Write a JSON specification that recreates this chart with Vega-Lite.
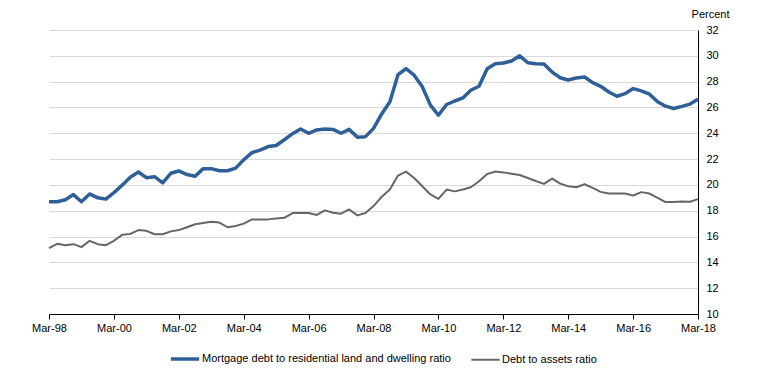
{
  "$schema": "https://vega.github.io/schema/vega-lite/v6.json",
  "width": 649,
  "height": 284,
  "autosize": "none",
  "padding": {"left": 49, "top": 30, "right": 59, "bottom": 65},
  "background": "white",
  "config": {
    "view": {"stroke": null},
    "font": "Liberation Sans",
    "axis": {"labelFont": "Liberation Sans", "labelFontSize": 11, "labelColor": "#000000", "titleFont": "Liberation Sans"},
    "legend": {"labelFont": "Liberation Sans", "labelFontSize": 11, "labelColor": "#000000"}
  },
  "data": {
    "values": [
      {"date":"1998-03-01","m":18.69,"d":15.1},{"date":"1998-06-01","m":18.7,"d":15.44},{"date":"1998-09-01","m":18.85,"d":15.33},{"date":"1998-12-01","m":19.25,"d":15.41},
      {"date":"1999-03-01","m":18.7,"d":15.18},{"date":"1999-06-01","m":19.3,"d":15.67},{"date":"1999-09-01","m":19.0,"d":15.41},{"date":"1999-12-01","m":18.9,"d":15.33},
      {"date":"2000-03-01","m":19.4,"d":15.67},{"date":"2000-06-01","m":19.97,"d":16.13},{"date":"2000-09-01","m":20.6,"d":16.2},{"date":"2000-12-01","m":21.0,"d":16.5},
      {"date":"2001-03-01","m":20.56,"d":16.44},{"date":"2001-06-01","m":20.64,"d":16.18},{"date":"2001-09-01","m":20.15,"d":16.18},{"date":"2001-12-01","m":20.9,"d":16.4},
      {"date":"2002-03-01","m":21.08,"d":16.5},{"date":"2002-06-01","m":20.8,"d":16.72},{"date":"2002-09-01","m":20.67,"d":16.95},{"date":"2002-12-01","m":21.26,"d":17.05},
      {"date":"2003-03-01","m":21.26,"d":17.15},{"date":"2003-06-01","m":21.1,"d":17.08},{"date":"2003-09-01","m":21.1,"d":16.72},{"date":"2003-12-01","m":21.3,"d":16.82},
      {"date":"2004-03-01","m":21.95,"d":17.0},{"date":"2004-06-01","m":22.5,"d":17.33},{"date":"2004-09-01","m":22.7,"d":17.33},{"date":"2004-12-01","m":22.97,"d":17.33},
      {"date":"2005-03-01","m":23.05,"d":17.4},{"date":"2005-06-01","m":23.5,"d":17.45},{"date":"2005-09-01","m":23.97,"d":17.82},{"date":"2005-12-01","m":24.33,"d":17.82},
      {"date":"2006-03-01","m":24.0,"d":17.82},{"date":"2006-06-01","m":24.26,"d":17.67},{"date":"2006-09-01","m":24.33,"d":18.03},{"date":"2006-12-01","m":24.3,"d":17.85},
      {"date":"2007-03-01","m":24.0,"d":17.77},{"date":"2007-06-01","m":24.3,"d":18.1},{"date":"2007-09-01","m":23.7,"d":17.64},{"date":"2007-12-01","m":23.74,"d":17.82},
      {"date":"2008-03-01","m":24.38,"d":18.36},{"date":"2008-06-01","m":25.5,"d":19.08},{"date":"2008-09-01","m":26.44,"d":19.64},{"date":"2008-12-01","m":28.54,"d":20.72},
      {"date":"2009-03-01","m":29.0,"d":21.03},{"date":"2009-06-01","m":28.5,"d":20.54},{"date":"2009-09-01","m":27.6,"d":19.9},{"date":"2009-12-01","m":26.18,"d":19.26},
      {"date":"2010-03-01","m":25.4,"d":18.92},{"date":"2010-06-01","m":26.23,"d":19.64},{"date":"2010-09-01","m":26.5,"d":19.5},{"date":"2010-12-01","m":26.74,"d":19.64},
      {"date":"2011-03-01","m":27.33,"d":19.82},{"date":"2011-06-01","m":27.64,"d":20.28},{"date":"2011-09-01","m":29.0,"d":20.85},{"date":"2011-12-01","m":29.38,"d":21.03},
      {"date":"2012-03-01","m":29.44,"d":20.97},{"date":"2012-06-01","m":29.6,"d":20.87},{"date":"2012-09-01","m":30.0,"d":20.77},{"date":"2012-12-01","m":29.46,"d":20.54},
      {"date":"2013-03-01","m":29.38,"d":20.3},{"date":"2013-06-01","m":29.36,"d":20.08},{"date":"2013-09-01","m":28.74,"d":20.49},{"date":"2013-12-01","m":28.3,"d":20.1},
      {"date":"2014-03-01","m":28.13,"d":19.9},{"date":"2014-06-01","m":28.28,"d":19.82},{"date":"2014-09-01","m":28.36,"d":20.05},{"date":"2014-12-01","m":27.92,"d":19.77},
      {"date":"2015-03-01","m":27.64,"d":19.46},{"date":"2015-06-01","m":27.2,"d":19.33},{"date":"2015-09-01","m":26.87,"d":19.33},{"date":"2015-12-01","m":27.07,"d":19.33},
      {"date":"2016-03-01","m":27.46,"d":19.18},{"date":"2016-06-01","m":27.28,"d":19.44},{"date":"2016-09-01","m":27.03,"d":19.33},{"date":"2016-12-01","m":26.44,"d":19.0},
      {"date":"2017-03-01","m":26.1,"d":18.67},{"date":"2017-06-01","m":25.92,"d":18.67},{"date":"2017-09-01","m":26.08,"d":18.72},{"date":"2017-12-01","m":26.26,"d":18.7},
      {"date":"2018-03-01","m":26.64,"d":18.9}
    ]
  },
  "transform": [{"fold": ["m", "d"], "as": ["series", "value"]}],
  "mark": {"type": "line", "strokeJoin": "round", "strokeCap": "butt"},
  "encoding": {
    "x": {
      "field": "date",
      "type": "temporal",
      "scale": {"type": "utc", "domain": [{"year": 1998, "month": 3, "date": 1, "utc": true}, {"year": 2018, "month": 3, "date": 1, "utc": true}]},
      "axis": {
        "title": null,
        "format": "%b-%y",
        "values": [
          {"year": 1998, "month": 3, "date": 1, "utc": true},
          {"year": 2000, "month": 3, "date": 1, "utc": true},
          {"year": 2002, "month": 3, "date": 1, "utc": true},
          {"year": 2004, "month": 3, "date": 1, "utc": true},
          {"year": 2006, "month": 3, "date": 1, "utc": true},
          {"year": 2008, "month": 3, "date": 1, "utc": true},
          {"year": 2010, "month": 3, "date": 1, "utc": true},
          {"year": 2012, "month": 3, "date": 1, "utc": true},
          {"year": 2014, "month": 3, "date": 1, "utc": true},
          {"year": 2016, "month": 3, "date": 1, "utc": true},
          {"year": 2018, "month": 3, "date": 1, "utc": true}
        ],
        "grid": false,
        "domainColor": "#000000",
        "domainWidth": 1,
        "tickColor": "#000000",
        "tickSize": 5,
        "labelPadding": 3,
        "labelFlush": false,
        "labelOverlap": false
      }
    },
    "y": {
      "field": "value",
      "type": "quantitative",
      "scale": {"domain": [10, 32], "nice": false, "zero": false},
      "axis": {
        "orient": "right",
        "values": [10, 12, 14, 16, 18, 20, 22, 24, 26, 28, 30, 32],
        "title": "Percent",
        "titleAngle": 0,
        "titleX": 12,
        "titleY": -16,
        "titleAlign": "center",
        "titleBaseline": "middle",
        "titleFontSize": 11,
        "titleFontWeight": "normal",
        "titleColor": "#000000",
        "grid": true,
        "gridColor": "#d9d9d9",
        "gridWidth": 1,
        "ticks": false,
        "domainColor": "#000000",
        "labelPadding": 8
      }
    },
    "color": {
      "field": "series",
      "type": "nominal",
      "scale": {"domain": ["m", "d"], "range": ["#2F5F98", "#666666"]},
      "legend": {
        "title": null,
        "orient": "none",
        "legendX": 120,
        "legendY": 313,
        "direction": "horizontal",
        "symbolType": "stroke",
        "symbolSize": 800,
        "symbolStrokeWidth": 3,
        "labelOffset": 1,
        "labelLimit": 0,
        "columnPadding": 16,
        "labelExpr": "datum.value == 'm' ? 'Mortgage debt to residential land and dwelling ratio' : 'Debt to assets ratio'"
      }
    },
    "strokeWidth": {
      "field": "series",
      "type": "nominal",
      "scale": {"domain": ["m", "d"], "range": [3.5, 2]},
      "legend": null
    }
  }
}
